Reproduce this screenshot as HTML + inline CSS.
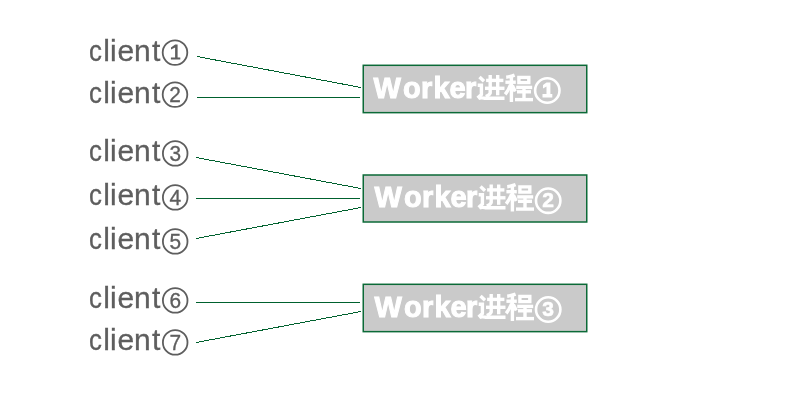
<!DOCTYPE html>
<html><head><meta charset="utf-8">
<style>
html,body{margin:0;padding:0;background:#ffffff;width:800px;height:400px;overflow:hidden}
svg{display:block;will-change:transform}
text{font-family:"Liberation Sans",sans-serif}
</style></head>
<body>
<svg width="800" height="400" viewBox="0 0 800 400">
<defs>
  <g id="jin" fill="none" stroke="#ffffff" stroke-width="3.4" stroke-linecap="butt" stroke-linejoin="miter">
    <!-- 进 -->
    <path d="M479.5 77 L484 81.2"/>
    <path d="M477.7 85.3 H481.4 V94.5 L477.6 98"/>
    <path d="M478.5 98.3 Q481 97.6 484 98.2 H504.5"/>
    <path d="M486.1 80.4 H503.4"/>
    <path d="M485 88.3 H504.5"/>
    <path d="M490.2 75 V93 Q489.6 95 485.8 96.6"/>
    <path d="M497.7 75 V95.3"/>
    <!-- 程 -->
    <path d="M506.2 77.2 Q510.5 76.8 514.6 75.2"/>
    <path d="M505.4 82.2 H515.8"/>
    <path d="M511.4 76.5 V102"/>
    <path d="M510.6 84.5 Q508.6 90 505.2 94.4"/>
    <path d="M512.4 85.5 L515.2 91.5"/>
    <path d="M518.9 77.4 H528.8 V82.6 H518.9 Z"/>
    <path d="M516.2 87.4 H532.2"/>
    <path d="M517 91.8 H531"/>
    <path d="M515 99.6 H533"/>
    <path d="M524 87.4 V99.6"/>
  </g>
</defs>

<!-- connector lines -->
<g stroke="#00612e" stroke-width="1" shape-rendering="crispEdges" fill="none">
  <line x1="197" y1="56.5" x2="361" y2="87.5"/>
  <line x1="197" y1="97.5" x2="360" y2="97.5"/>
  <line x1="196" y1="157.5" x2="361" y2="188.5"/>
  <line x1="196" y1="198.5" x2="360" y2="198.5"/>
  <line x1="196" y1="238.5" x2="361" y2="207.5"/>
  <line x1="196" y1="302.5" x2="360" y2="302.5"/>
  <line x1="196" y1="342.5" x2="361" y2="311.5"/>
</g>

<!-- boxes -->
<g fill="#cacaca" stroke="#0b6a37" stroke-width="1.5">
  <rect x="363.25" y="65.3" width="223.5" height="47.35"/>
  <rect x="363.25" y="175" width="223.5" height="47"/>
  <rect x="363.25" y="284.3" width="223.5" height="47.35"/>
</g>

<!-- client labels -->
<g font-family="Liberation Sans" font-size="30" fill="#5e5e5e" stroke="#5e5e5e" stroke-width="0.3">
  <text x="89.1" y="60.5" textLength="12.9" lengthAdjust="spacingAndGlyphs">c</text><text x="103.3 110.1 117.4 133.9 152.05" y="60.5">lient</text>
  <text x="89.1" y="102.5" textLength="12.9" lengthAdjust="spacingAndGlyphs">c</text><text x="103.3 110.1 117.4 133.9 152.05" y="102.5">lient</text>
  <text x="89.1" y="161.25" textLength="12.9" lengthAdjust="spacingAndGlyphs">c</text><text x="103.3 110.1 117.4 133.9 152.05" y="161.25">lient</text>
  <text x="89.1" y="205.25" textLength="12.9" lengthAdjust="spacingAndGlyphs">c</text><text x="103.3 110.1 117.4 133.9 152.05" y="205.25">lient</text>
  <text x="89.1" y="249.25" textLength="12.9" lengthAdjust="spacingAndGlyphs">c</text><text x="103.3 110.1 117.4 133.9 152.05" y="249.25">lient</text>
  <text x="89.1" y="308.25" textLength="12.9" lengthAdjust="spacingAndGlyphs">c</text><text x="103.3 110.1 117.4 133.9 152.05" y="308.25">lient</text>
  <text x="89.1" y="350.25" textLength="12.9" lengthAdjust="spacingAndGlyphs">c</text><text x="103.3 110.1 117.4 133.9 152.05" y="350.25">lient</text>
</g>
<g fill="none" stroke="#5e5e5e" stroke-width="1.8">
  <circle cx="175" cy="52.6" r="12.3"/>
  <circle cx="175" cy="94.6" r="12.3"/>
  <circle cx="175.2" cy="153.4" r="12.3"/>
  <circle cx="175.2" cy="197.4" r="12.3"/>
  <circle cx="175.2" cy="241.4" r="12.3"/>
  <circle cx="175.2" cy="300.4" r="12.3"/>
  <circle cx="175.2" cy="342.4" r="12.3"/>
</g>
<g font-family="Liberation Sans" font-size="22.5" fill="#5e5e5e" stroke="#5e5e5e" stroke-width="0.35">
  <text x="169.2" y="101.75" textLength="11.6" lengthAdjust="spacingAndGlyphs">2</text>
  <text x="169.4" y="160.5" textLength="11.6" lengthAdjust="spacingAndGlyphs">3</text>
  <text x="169.4" y="204.5" textLength="11.6" lengthAdjust="spacingAndGlyphs">4</text>
  <text x="169.4" y="248.5" textLength="11.6" lengthAdjust="spacingAndGlyphs">5</text>
  <text x="169.4" y="307.5" textLength="11.6" lengthAdjust="spacingAndGlyphs">6</text>
  <text x="169.4" y="349.5" textLength="11.6" lengthAdjust="spacingAndGlyphs">7</text>
</g>
<path d="M175.1 44.4 H177.6 V57.6 H180.3 V59.6 H170.9 V57.6 H175.1 V47.4 L171 49.6 V47.6 Z" fill="#5e5e5e"/>

<!-- Worker labels -->
<g font-family="Liberation Sans" font-weight="bold" font-size="29" fill="#ffffff" stroke="#ffffff" stroke-width="1.0">
  <text x="373.6 403 421 433.4 449.6 465" y="98">Worker</text>
  <text x="374.6 404 422 434.4 450.6 466" y="207.3">Worker</text>
  <text x="374.6 404 422 434.4 450.6 466" y="317">Worker</text>
</g>
<use href="#jin"/>
<use href="#jin" transform="translate(1,109.5)"/>
<use href="#jin" transform="translate(1,219)"/>

<g fill="none" stroke="#ffffff" stroke-width="2.6">
  <circle cx="547.3" cy="90.5" r="12.2"/>
  <circle cx="548.2" cy="200.7" r="12.2"/>
  <circle cx="548.2" cy="309.5" r="12.2"/>
</g>
<path d="M546.5 82.6 H550.4 V93.9 H552.3 V97.4 H542.5 V93.9 H546.5 V86.4 L543 88.4 V85 Z" fill="#ffffff"/>
<g font-family="Liberation Sans" font-weight="bold" font-size="21" fill="#ffffff" stroke="#ffffff" stroke-width="0.6" text-anchor="middle">
  <text x="548.2" y="207.2">2</text>
  <text x="548.2" y="315.6">3</text>
</g>
</svg>
</body></html>
